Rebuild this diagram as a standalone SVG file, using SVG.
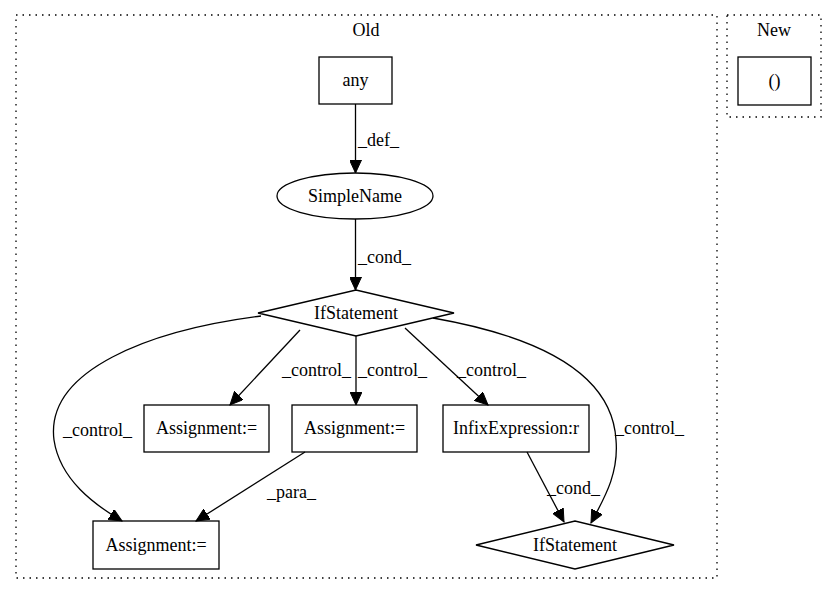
<svg xmlns="http://www.w3.org/2000/svg" width="837" height="596" viewBox="0 0 837 596">
<style>
text{font-family:"Liberation Serif","Times New Roman",serif;font-size:18px;fill:#000}
.c{text-anchor:middle}
.n{fill:none;stroke:#000;stroke-width:1.3}
.cl{fill:none;stroke:#000;stroke-width:1.3;stroke-dasharray:1.5,5}
.e{fill:none;stroke:#000;stroke-width:1.3;marker-end:url(#a)}
</style>
<defs>
<marker id="a" markerUnits="userSpaceOnUse" markerWidth="14" markerHeight="12" viewBox="0 0 14 12" refX="13" refY="6" orient="auto">
<path d="M0,0 L13,6 L0,12 Z" fill="#000" stroke="#000"/>
</marker>
</defs>
<g id="cluster_old">
<rect class="cl" x="16" y="15" width="701" height="563"/>
<text class="c" x="366" y="36">Old</text>
</g>
<g id="cluster_new">
<rect class="cl" x="727" y="15" width="94" height="102"/>
<text class="c" x="774" y="36">New</text>
</g>
<g id="edges">
<path class="e" d="M355.5,104 L355.5,173"/>
<text x="358" y="146">_def_</text>
<path class="e" d="M355.5,219 L355.5,290"/>
<text x="358" y="263">_cond_</text>
<path class="e" d="M300,330 L230,405"/>
<text x="282" y="376">_control_</text>
<path class="e" d="M356,336 L356,405"/>
<text x="358" y="376">_control_</text>
<path class="e" d="M405,328 L488,405"/>
<text x="457" y="376">_control_</text>
<path class="e" d="M261,316 C150,330 45,370 54,440 C60,480 95,505 122,521"/>
<text x="63" y="436">_control_</text>
<path class="e" d="M433,318 C530,335 612,370 616,440 C619,475 603,500 591,523"/>
<text x="615" y="434">_control_</text>
<path class="e" d="M305,452 L196,521"/>
<text x="267" y="498">_para_</text>
<path class="e" d="M527,452 L564,522"/>
<text x="547" y="494">_cond_</text>
</g>
<g id="any">
<rect class="n" x="319" y="57" width="73" height="47"/>
<text class="c" x="355.5" y="86">any</text>
</g>
<g id="simplename">
<ellipse class="n" cx="355" cy="196" rx="78" ry="23"/>
<text class="c" x="355" y="202">SimpleName</text>
</g>
<g id="ifstatement1">
<polygon class="n" points="258,313 356,290 454,313 356,336"/>
<text class="c" x="356" y="319">IfStatement</text>
</g>
<g id="assignment1">
<rect class="n" x="144" y="405" width="125" height="47"/>
<text class="c" x="206.5" y="434">Assignment:=</text>
</g>
<g id="assignment2">
<rect class="n" x="292" y="405" width="125" height="47"/>
<text class="c" x="354.5" y="434">Assignment:=</text>
</g>
<g id="infix">
<rect class="n" x="443" y="405" width="146" height="47"/>
<text class="c" x="516" y="434">InfixExpression:r</text>
</g>
<g id="assignment3">
<rect class="n" x="93" y="521" width="126" height="48"/>
<text class="c" x="156" y="551">Assignment:=</text>
</g>
<g id="ifstatement2">
<polygon class="n" points="476,545 575,521 674,545 575,569"/>
<text class="c" x="575" y="551">IfStatement</text>
</g>
<g id="paren">
<rect class="n" x="738" y="57" width="73" height="48"/>
<text class="c" x="774.5" y="87">()</text>
</g>
</svg>
